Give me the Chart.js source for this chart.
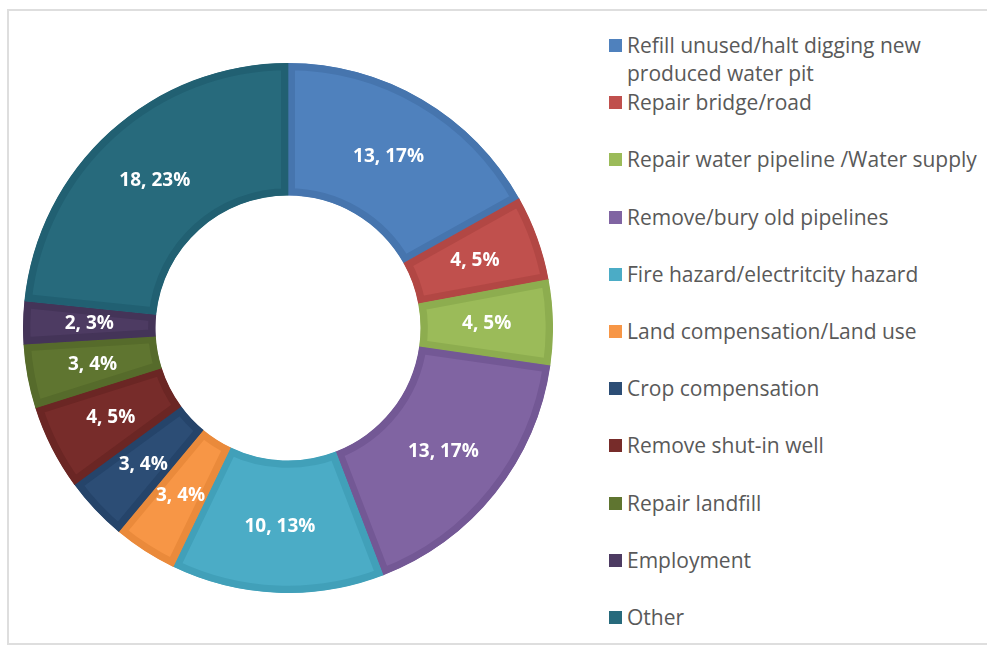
<!DOCTYPE html>
<html>
<head>
<meta charset="utf-8">
<script src="https://cdn.jsdelivr.net/npm/chart.js@4.4.1/dist/chart.umd.min.js"></script>
<style>
  html, body { margin: 0; padding: 0; background: #fff; }
  body { width: 987px; height: 646px; position: relative; overflow: hidden; font-family: "Open Sans", Lato, sans-serif; }
  #frame { position: absolute; left: 7px; top: 9px; width: 990px; height: 636px; border: 2px solid #dedede; box-sizing: border-box; }
  #pie { position: absolute; left: 23px; top: 63px; width: 530px; height: 530px; }
  #legend { position: absolute; left: 609px; top: 0; }
  .item { position: absolute; left: 0; white-space: nowrap; color: #595959; font-size: 21px; line-height: 28px; }
  .item span.box { position: absolute; left: 0; top: 8px; width: 13px; height: 13px; }
  .item span.txt { position: absolute; left: 18px; top: 0; }
</style>
</head>
<body>
<div id="frame"></div>
<div id="pie"><canvas id="donut"></canvas></div>
<div id="legend"></div>
<script>
// categorie e valori del grafico
const categorie = [
  ["Refill unused/halt digging new", "produced water pit"],
  ["Repair bridge/road"],
  ["Repair water pipeline /Water supply"],
  ["Remove/bury old pipelines"],
  ["Fire hazard/electritcity hazard"],
  ["Land compensation/Land use"],
  ["Crop compensation"],
  ["Remove shut-in well"],
  ["Repair landfill"],
  ["Employment"],
  ["Other"]
];
const valori = [13, 4, 4, 13, 10, 3, 3, 4, 3, 2, 18];
const colori = ["#4f81bd", "#c0504d", "#9bbb59", "#8064a2", "#4bacc6", "#f79646",
                "#2c4d75", "#772c2a", "#5f7530", "#4d3b62", "#276a7c"];
const bordi = ["#4675ae", "#b24744", "#8dad4f", "#735895", "#41a0b9", "#ea8a3b",
               "#25446a", "#6b2624", "#566b2b", "#443458", "#216072"];

const totale = valori.reduce((a, b) => a + b, 0);

// etichette "valore, percentuale" al centro di ogni spicchio
const etichette = {
  id: "etichette",
  afterDatasetsDraw(chart) {
    const ctx = chart.ctx;
    const meta = chart.getDatasetMeta(0);
    ctx.save();
    ctx.font = "bold 19px 'Open Sans', sans-serif";
    ctx.fillStyle = "#ffffff";
    ctx.textAlign = "center";
    ctx.textBaseline = "middle";
    meta.data.forEach((arc, i) => {
      const p = arc.tooltipPosition();
      const perc = Math.round(valori[i] / totale * 100);
      ctx.fillText(valori[i] + ", " + perc + "%", p.x, p.y);
    });
    ctx.restore();
  }
};

new Chart(document.getElementById("donut"), {
  type: "doughnut",
  data: {
    labels: categorie.map(c => c.join(" ")),
    datasets: [{
      data: valori,
      backgroundColor: colori,
      borderColor: bordi,
      borderWidth: 7,
      borderAlign: "inner"
    }]
  },
  options: {
    responsive: true,
    maintainAspectRatio: false,
    animation: false,
    cutout: "50%",
    layout: { padding: 0 },
    plugins: {
      legend: { display: false },
      tooltip: { enabled: false }
    }
  },
  plugins: [etichette]
});

// legenda a destra
const legenda = document.getElementById("legend");
categorie.forEach((righe, i) => {
  const el = document.createElement("div");
  el.className = "item";
  el.style.top = (31 + i * 57.2) + "px";
  el.innerHTML = '<span class="box" style="background:' + colori[i] + '"></span>' +
    '<span class="txt">' + righe.join("<br>") + '</span>';
  legenda.appendChild(el);
});
</script>
</body>
</html>
